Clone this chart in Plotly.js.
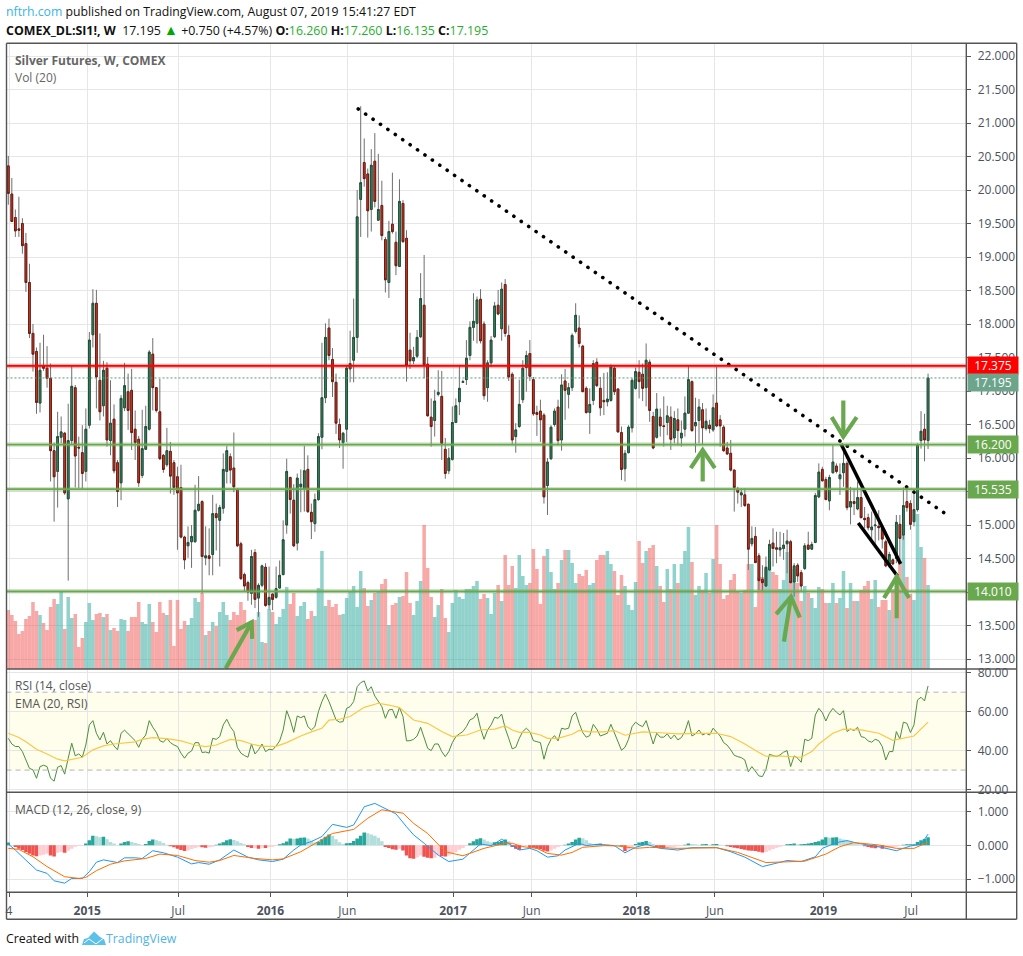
<!DOCTYPE html>
<html><head><meta charset="utf-8">
<script src="https://cdn.plot.ly/plotly-3.0.1.min.js"></script>
<style>html,body{margin:0;padding:0;background:#fff}#c{width:1023px;height:956px}</style>
</head><body><div id="c"></div>
<script>
const opens=[20.36,19.94,19.59,19.42,19.50,19.20,18.62,17.86,17.59,16.82,
17.37,17.34,17.19,16.11,15.80,16.31,16.37,15.39,16.26,17.05,
16.16,16.08,15.80,16.49,17.84,18.31,17.16,16.78,17.34,16.26,
16.58,15.93,15.63,16.75,16.99,17.01,16.43,16.28,15.74,16.13,
16.43,17.55,17.05,16.69,16.04,15.90,16.10,15.93,15.72,15.56,
14.82,14.69,14.75,14.75,15.22,15.35,14.51,14.54,14.56,15.17,
15.07,15.25,15.80,16.02,15.85,15.53,14.72,14.26,14.14,13.98,
14.59,13.91,14.10,14.37,13.81,13.97,13.92,14.06,14.26,15.00,
15.71,15.37,14.73,15.57,15.53,15.83,15.19,15.02,15.38,16.31,
16.90,17.94,17.47,17.13,16.50,16.23,16.43,17.33,17.46,17.80,
19.86,20.41,20.24,19.71,20.43,19.55,19.77,19.26,18.62,19.49,
19.22,18.86,19.80,19.28,17.61,17.45,17.52,17.81,18.28,17.40,
16.61,16.56,16.95,16.92,16.13,15.81,15.98,16.53,16.84,17.13,
17.17,17.53,17.95,18.01,18.37,18.00,17.05,17.42,17.81,18.28,
17.93,18.59,17.83,17.25,16.32,16.47,16.87,17.35,17.56,17.17,
16.68,16.70,16.64,15.59,15.99,16.50,16.76,16.27,17.15,16.95,
17.05,17.89,17.94,17.67,17.04,16.68,16.86,17.43,17.04,16.86,
16.84,16.86,17.34,17.03,16.38,15.84,16.08,16.45,17.04,17.28,
17.25,17.05,17.43,16.62,16.31,16.61,16.48,16.53,16.61,16.30,
16.57,16.30,16.43,16.67,17.14,16.48,16.56,16.72,16.44,16.49,
16.42,16.82,16.57,16.46,16.15,16.07,15.82,15.53,15.45,15.45,
15.31,14.72,14.83,14.54,14.19,14.09,14.33,14.73,14.66,14.63,
14.65,14.72,14.75,14.15,14.40,14.29,14.35,14.70,14.64,14.74,
15.42,15.83,15.68,15.36,15.78,15.88,15.69,15.78,15.92,15.27,
15.35,15.24,15.41,15.10,15.11,14.93,14.99,14.98,14.95,14.75,
14.39,14.48,14.50,15.01,14.85,15.35,15.32,15.05,15.23,16.26,
16.43,16.26];
const closes=[19.95,19.53,19.39,19.40,19.17,18.62,17.86,17.55,16.83,17.31,
17.34,17.19,16.11,15.72,16.32,16.39,15.48,16.26,17.07,16.03,
16.15,15.77,16.43,17.76,18.31,17.21,16.69,17.31,16.27,16.52,
15.81,15.50,16.89,17.08,16.71,16.38,16.23,15.63,16.14,16.47,
17.58,17.05,16.71,15.99,15.83,16.11,15.73,15.56,15.48,14.82,
14.48,14.74,14.83,15.22,15.31,14.53,14.54,14.50,15.17,15.11,
15.26,15.83,16.11,15.82,15.57,14.69,14.20,14.09,14.00,14.53,
13.89,14.10,14.39,13.80,13.92,13.89,14.05,14.25,14.78,15.80,
15.38,14.69,15.70,15.61,15.81,15.20,15.05,15.38,16.32,16.90,
17.80,17.53,17.14,16.52,16.27,16.37,17.34,17.41,17.80,19.60,
20.11,20.17,19.69,20.37,19.83,19.71,19.32,18.66,19.38,19.38,
18.87,19.83,19.23,17.38,17.45,17.50,17.80,18.38,17.39,16.63,
16.47,16.85,16.98,16.22,15.77,16.00,16.53,16.78,17.04,17.14,
17.49,17.95,18.04,18.36,17.75,16.93,17.42,17.76,18.27,18.15,
18.52,17.86,17.21,16.27,16.42,16.80,17.34,17.53,17.22,16.66,
16.65,16.57,15.42,15.94,16.46,16.70,16.26,17.09,17.01,17.05,
17.83,18.13,17.71,16.99,16.68,16.80,17.41,17.08,16.75,16.84,
16.88,17.36,16.99,16.39,15.83,16.07,16.46,17.16,17.29,17.14,
17.04,17.46,16.71,16.15,16.73,16.48,16.47,16.63,16.28,16.59,
16.41,16.37,16.67,17.17,16.41,16.53,16.76,16.45,16.55,16.44,
16.75,16.48,16.48,16.11,16.06,15.82,15.56,15.49,15.48,15.29,
14.64,14.80,14.44,14.17,14.14,14.37,14.71,14.65,14.64,14.66,
14.70,14.76,14.14,14.39,14.24,14.09,14.69,14.64,14.71,15.44,
15.79,15.66,15.38,15.71,15.94,15.80,15.75,15.92,15.26,15.35,
15.32,15.41,15.11,15.08,14.96,14.97,15.00,14.96,14.79,14.39,
14.56,14.42,15.04,14.80,15.29,15.26,15.01,15.23,16.20,16.40,
16.27,17.195];
const highs=[20.51,20.18,19.71,19.90,19.58,19.36,18.90,18.00,17.65,17.72,
17.84,17.67,17.41,16.23,16.69,16.62,16.39,16.81,17.37,17.09,
16.32,16.49,16.74,17.88,18.52,18.51,17.86,17.45,17.43,17.16,
16.80,15.97,16.94,17.42,17.26,17.33,16.71,16.33,16.72,16.78,
17.61,17.79,17.06,17.18,16.06,16.45,16.24,15.97,15.87,15.90,
14.84,14.98,15.00,15.60,15.73,15.37,14.98,14.95,15.45,15.32,
15.30,16.07,16.18,16.07,16.38,15.55,14.75,14.29,14.17,14.63,
14.64,14.13,14.41,14.43,14.38,13.98,14.38,14.47,15.07,15.99,
15.72,15.61,15.77,15.83,16.18,16.04,15.32,15.47,16.37,17.72,
18.01,18.08,17.64,17.26,16.59,16.39,17.39,17.90,18.38,20.00,
21.25,20.77,20.32,20.61,20.85,20.54,20.14,19.30,19.54,20.26,
19.38,20.16,19.85,19.40,17.87,17.66,17.91,18.76,19.03,17.51,
16.89,17.02,17.31,17.30,16.30,16.15,16.77,16.89,17.39,17.17,
17.76,18.04,18.46,18.41,18.52,18.04,17.46,17.82,18.33,18.51,
18.62,18.67,17.98,17.28,16.52,17.17,17.46,17.60,17.76,17.21,
16.78,16.87,16.67,16.00,16.49,16.74,16.87,17.25,17.33,17.12,
17.86,18.31,18.13,17.69,17.07,17.04,17.46,17.49,17.21,17.27,
17.28,17.40,17.38,17.04,16.47,16.12,16.49,17.19,17.35,17.46,
17.41,17.71,17.47,16.69,16.97,16.74,16.92,16.78,16.77,16.70,
16.74,16.56,16.92,17.37,17.16,16.90,16.88,16.82,16.74,16.57,
16.95,17.36,16.64,16.49,16.24,16.27,15.83,15.57,15.55,15.55,
15.32,14.98,14.97,14.58,14.40,14.53,14.78,14.95,14.90,14.90,
14.88,14.93,14.78,14.43,14.43,14.33,14.73,14.90,14.75,15.48,
15.92,15.87,15.72,15.75,16.19,15.92,15.92,16.19,15.95,15.57,
15.55,15.65,15.55,15.27,15.17,15.20,15.17,15.22,15.00,14.78,
14.60,14.50,15.15,15.15,15.56,15.55,15.37,15.53,16.22,16.70,
16.66,17.26];
const lows=[19.78,19.53,19.30,19.30,19.05,18.48,17.79,17.29,16.66,16.68,
17.30,17.05,15.65,15.05,15.26,16.22,15.45,14.17,16.21,15.56,
15.55,15.53,15.65,16.44,17.65,16.74,16.56,16.62,16.17,16.04,
15.77,15.27,15.37,16.70,16.42,16.12,15.97,15.57,15.70,16.12,
16.41,16.71,16.68,15.97,15.78,15.87,15.47,15.45,14.63,14.80,
14.34,14.51,14.36,14.74,15.20,13.98,14.40,14.25,14.25,14.62,
14.38,15.17,15.62,15.62,15.49,14.67,14.18,14.00,13.87,13.81,
13.76,13.63,14.07,13.78,13.74,13.73,13.90,14.05,14.25,14.87,
15.17,14.67,14.62,15.19,15.20,15.18,14.79,14.90,15.36,16.13,
16.82,17.46,16.91,16.36,16.15,15.84,16.24,17.13,17.13,17.57,
19.30,20.05,19.29,19.38,19.74,19.54,19.25,18.47,18.39,19.35,
18.73,18.85,19.21,17.14,17.33,17.40,17.49,17.79,17.19,16.62,
16.17,16.32,16.92,15.97,15.69,15.76,15.96,16.52,16.64,17.12,
17.09,17.46,17.75,17.71,17.71,16.87,16.84,17.36,17.79,18.13,
17.75,17.81,17.15,16.19,16.08,16.45,16.82,16.99,17.15,16.63,
16.33,16.24,15.32,15.15,15.97,16.47,16.19,16.11,16.57,16.74,
17.00,17.86,17.65,16.99,16.66,16.36,16.79,17.06,16.63,16.64,
16.77,16.84,16.94,16.38,15.67,15.65,16.07,16.38,17.02,16.89,
16.85,16.77,16.54,16.13,16.29,16.32,16.17,16.34,16.12,16.22,
16.19,16.17,16.32,16.66,16.39,16.08,16.22,16.21,16.41,16.37,
16.39,16.46,16.17,16.09,16.05,15.80,15.20,15.32,15.27,15.27,
14.33,14.68,14.43,14.03,14.00,14.08,14.32,14.38,14.43,14.53,
14.48,14.28,14.13,13.93,14.15,14.00,14.33,14.63,14.63,14.73,
15.40,15.65,15.37,15.22,15.77,15.77,15.45,15.57,15.22,15.01,
15.15,15.22,15.10,14.95,14.92,14.77,14.68,14.77,14.65,14.37,
14.36,14.40,14.43,14.48,14.78,15.20,14.93,14.98,15.20,16.14,
15.95,16.135];
const volumes=[59,54,48,35,38,50,53,67,58,54,
46,39,62,70,65,77,40,72,51,55,
22,31,47,66,49,55,56,52,55,39,
41,38,50,49,38,52,52,67,47,45,
65,47,37,67,56,54,69,23,69,40,
48,44,51,71,67,76,34,38,47,43,
57,67,54,49,57,54,67,59,43,44,
49,57,27,26,60,57,45,52,60,82,
65,76,53,63,67,50,58,53,81,118,
63,69,62,65,54,55,71,77,83,62,
98,81,63,69,76,78,85,90,44,64,
66,72,73,97,66,54,68,88,144,101,
72,52,64,80,51,37,66,79,72,70,
80,80,83,88,70,75,71,55,76,84,
68,114,84,103,81,114,93,84,86,120,
100,65,113,120,97,80,86,109,119,119,
106,86,95,93,99,84,86,109,114,114,
118,105,98,74,94,83,64,59,87,128,
106,118,121,124,103,83,67,100,80,105,
86,105,118,142,107,74,83,79,96,76,
110,144,105,70,74,89,95,77,76,79,
105,105,62,92,92,100,108,97,94,80,
89,117,88,100,86,68,83,76,71,61,
82,80,66,66,86,66,71,98,61,86,
68,68,79,83,88,70,89,62,69,69,
59,80,85,108,145,92,75,69,155,122,
111,84];
const rsi=[46.3,43.4,42.1,42.1,39.5,35.2,30.9,30.1,25.8,31.8,
32.5,31.8,25.8,24.3,31.5,32.3,27.9,36.1,43.8,37.3,
38.3,36.6,42.9,53.2,55.4,48.9,45.5,49.4,43.4,45.1,
42.4,40.4,48.9,50.5,48.6,46.7,45.1,41.7,45.8,48.0,
55.4,52.0,49.4,45.1,44.3,46.3,44.1,42.9,42.1,38.7,
36.1,38.7,39.8,44.1,44.1,39.0,39.3,38.7,46.3,45.8,
47.2,53.2,56.1,52.3,49.8,41.7,38.7,37.5,36.6,43.4,
38.3,40.4,43.4,39.5,40.7,40.4,42.4,45.0,50.6,60.5,
55.8,49.4,57.8,56.9,57.8,52.3,50.6,52.3,60.0,65.2,
69.1,65.2,60.0,55.8,54.6,54.9,61.7,62.6,65.2,72.8,
74.9,75.8,70.6,72.8,68.0,65.2,62.6,56.6,60.9,61.2,
56.6,62.2,57.5,45.0,45.1,45.8,47.5,52.0,46.3,41.2,
40.0,43.4,43.4,39.5,36.9,39.5,44.1,47.2,48.6,49.8,
52.3,55.8,56.6,59.2,51.5,45.8,50.6,53.2,57.1,56.6,
58.8,51.5,46.3,40.9,41.7,46.3,49.8,51.5,49.8,45.1,
44.6,44.1,35.6,42.1,45.8,47.7,45.0,51.5,51.0,51.5,
57.8,59.7,54.0,49.3,46.9,47.7,53.5,51.0,47.5,48.4,
48.9,53.5,48.9,44.1,40.2,41.7,45.8,52.3,54.6,53.2,
52.3,55.4,48.9,43.4,48.9,46.9,46.9,48.6,46.0,48.0,
45.5,46.7,49.8,55.4,47.5,48.6,50.6,48.0,48.9,48.0,
51.5,49.3,47.5,44.1,42.8,40.4,37.6,36.9,36.4,35.2,
29.1,31.8,29.4,27.0,26.7,30.4,38.1,37.3,36.9,37.8,
39.2,40.0,31.8,37.3,36.1,34.0,45.8,45.1,46.3,58.3,
61.7,59.5,55.2,59.2,61.7,59.7,58.3,60.5,49.8,51.1,
50.3,52.0,47.2,46.7,45.0,44.3,45.8,45.1,42.1,35.2,
39.5,39.5,49.8,46.0,54.6,54.0,49.3,53.2,66.0,67.4,
65.5,73.2];
const emaBars=[0,3,5,8,11,14,16,19,21,24,27,30,33,36,38,41,45,49,53,56,59,63,66,69,72,76,79,83,86,89,91,94,97,101,105,108,111,115,119,123,126,130,134,138,141,143,145,148,151,153,156,160,162,165,169,172,175,180,184,190,196,201,205,209,213,215,218,225,228,230,234,237,242,247,251,254,257,261];
const emaValues=[48.9,46.7,44.6,40.7,38.3,35.6,34.7,35.8,36.6,40.4,42.4,43.4,44.1,44.5,45.8,46.7,46.2,45,42.9,42.1,42.9,45.8,45.1,43.4,42.2,42.2,44.1,47.5,49.6,51.5,55.7,56.1,57.5,62.2,64.3,63.4,62.1,55.7,54,49.8,47.2,48,50.6,51,52.7,50.6,49.4,49.4,48,46.3,46.3,48.4,50.4,49.6,49.6,50.3,47.9,49.6,49.3,48.6,48.9,48.9,47.2,43.4,39,37.1,37.3,36.6,39.5,43.4,48.9,51,50.6,48.9,45.3,46.3,47.5,54.6];
const macdBars=[0,2,5,8,11,13,16,18,21,23,25,27,31,33,36,38,41,44,48,52,54,57,60,64,68,71,75,78,81,83,86,89,92,96,98,101,104,106,110,113,115,118,122,125,129,134,137,140,143,145,148,150,153,156,158,162,164,167,172,175,178,181,185,190,194,201,205,209,214,218,221,225,229,231,235,238,241,247,252,256,259,261];
const macdValues=[0.04,-0.14,-0.44,-0.73,-0.83,-1.05,-1.12,-0.98,-0.98,-0.78,-0.50,-0.43,-0.51,-0.37,-0.37,-0.39,-0.16,-0.22,-0.35,-0.55,-0.51,-0.56,-0.43,-0.14,-0.35,-0.43,-0.48,-0.41,-0.14,0.01,0.11,0.26,0.62,0.53,0.60,1.14,1.24,1.13,0.93,0.55,0.31,0.06,-0.29,-0.48,-0.41,0.04,-0.01,0.18,-0.02,-0.14,-0.09,-0.16,-0.35,-0.31,-0.14,0.06,-0.01,0.03,-0.01,-0.22,-0.06,0.03,-0.09,-0.14,-0.07,-0.07,-0.19,-0.35,-0.63,-0.53,-0.45,-0.48,-0.34,-0.09,0.08,0.14,0.06,-0.04,-0.16,-0.02,0.03,0.33];
const signalBars=[0,3,7,11,16,20,22,25,29,33,39,43,48,53,57,60,64,70,75,78,83,87,92,98,102,106,112,115,119,124,129,135,141,143,146,150,153,157,160,163,169,173,178,182,190,201,207,215,223,226,232,236,240,247,252,257,261];
const signalValues=[-0.09,-0.12,-0.34,-0.63,-0.93,-0.98,-0.95,-0.75,-0.56,-0.46,-0.39,-0.26,-0.30,-0.45,-0.50,-0.45,-0.30,-0.39,-0.43,-0.40,-0.19,0.06,0.35,0.47,0.80,1.05,0.95,0.65,0.35,-0.19,-0.31,-0.09,0.06,0.06,-0.04,-0.09,-0.24,-0.29,-0.21,-0.06,-0.01,-0.02,-0.09,-0.06,-0.09,-0.07,-0.21,-0.51,-0.47,-0.47,-0.26,-0.04,0.08,0.01,-0.09,-0.09,0.09];
const histogram=[.08,0,-.05,-.10,-.14,-.20,-.25,-.30,-.32,-.30,
-.28,-.25,-.30,-.33,-.22,-.20,-.22,-.16,-.10,-.04,
-.02,-.02,.05,.15,.28,.27,.24,.25,.18,.10,
.05,.01,.05,.10,.12,.10,.07,.04,.02,.04,
.13,.17,.15,.12,.07,.02,-.03,-.06,-.10,-.14,
-.17,-.15,-.11,-.08,-.05,-.06,-.07,-.06,-.04,.02,
.05,.09,.15,.18,.16,.12,.07,.03,-.05,-.08,
-.07,-.10,-.07,-.08,-.05,-.04,-.02,.03,.06,.11,
.20,.19,.20,.22,.23,.20,.14,.08,.10,.18,
.25,.32,.28,.18,.09,.04,.06,.07,.13,.20,
.28,.38,.36,.32,.28,.22,.12,-.05,-.08,-.12,
-.13,-.10,-.15,-.30,-.38,-.40,-.36,-.30,-.34,-.37,
-.38,-.37,-.30,-.32,-.33,-.30,-.25,-.20,-.13,-.08,
-.02,.06,.12,.18,.21,.17,.12,.08,.09,.10,
.13,.17,.12,-.05,-.10,-.13,-.06,-.03,-.05,-.07,
-.10,-.12,-.16,-.18,-.15,-.10,-.05,-.01,.02,.05,
.10,.17,.22,.21,.15,.07,.03,.04,.05,.04,
.03,.02,.01,.01,-.03,-.17,-.13,-.08,.04,.08,
.10,.13,.10,.04,-.05,-.07,-.08,-.08,-.06,-.05,
-.03,-.02,.02,.05,.04,.03,.02,.03,.04,.02,
.03,.04,.02,.01,-.03,-.05,-.07,-.09,-.11,-.13,
-.15,-.16,-.17,-.19,-.21,-.20,-.15,-.11,-.07,-.04,
-.02,.03,.04,.05,.03,.03,.04,.05,.07,.10,
.12,.17,.24,.22,.23,.235,.20,.17,.14,.10,
.06,.03,.01,-.03,-.05,-.07,-.09,-.08,-.10,-.09,
-.07,-.05,-.04,-.02,.02,.03,.03,.03,.10,.15,
.19,.24];
const tickBars=[0.2,22.4,48.2,74.4,96.2,126.2,148.5,178.2,200.5,231.3,256.2];
const tickLabels=['4','<b>2015</b>','Jul','<b>2016</b>','Jun','<b>2017</b>','Jun','<b>2018</b>','Jun','<b>2019</b>','Jul'];
const priceTicks=[13,13.5,14,14.5,15,15.5,16,16.5,17,17.5,18,18.5,19,19.5,20,20.5,21,21.5,22];
const priceTickLabels=['13.000','13.500','','14.500','15.000','','16.000','16.500','17.000','17.500','18.000','18.500','19.000','19.500','20.000','20.500','21.000','21.500','22.000'];
const redLevel=17.375, lastPrice=17.195;
const greenLevels=[16.2,15.535,14.01];
const trendBars=[99.3,265.6], trendPrices=[21.21,15.18];
const wedgeUpperBars=[236.3,253.2], wedgeUpperPrices=[16.21,14.42];
const wedgeLowerBars=[241.2,252.3], wedgeLowerPrices=[15.03,14.24];
const arrowBars=[61.7,69.07,null,64.8,69.07,69.2,null,197.05,197.05,null,193.65,197.05,200.5,null,220.1,222.1,null,217.9,222.1,224.6,null,236.95,236.95,null,233.65,236.95,240.75,null,252.1,252.1,null,248.5,252.1,255.6];
const arrowPrices=[12.86,13.55,null,13.43,13.55,13.30,null,15.65,16.12,null,15.85,16.12,15.85,null,13.26,13.93,null,13.67,13.93,13.62,null,16.86,16.32,null,16.61,16.32,16.61,null,13.61,14.23,null,13.91,14.23,13.91];

const W=1023,H=956;
const X0=6.5,X1=966.3,XR=1016.7,YT=43.3,Y1=669,Y2=792.3,Y3=892.3,YB=919.3;
const fx=p=>p/W, fy=p=>1-p/H;
const bars=closes.map((_,i)=>i);
const FONT='"Open Sans", sans-serif';
const TXT='#4c525e';

const up=closes.map((c,i)=>c>=opens[i]);
const histColors=histogram.map((v,i)=>{const rising=i===0||v>=histogram[i-1];return v>=0?(rising?'#26a69a':'#b2dfdb'):(rising?'#ffcdd2':'#ef5350');});

const bodyHigh=closes.map((c,i)=>Math.max(c,opens[i]));
const bodyLow=closes.map((c,i)=>Math.min(c,opens[i]));

const traces=[
 {type:'bar',x:bars,y:volumes,xaxis:'x',yaxis:'y',width:1,marker:{color:up.map(u=>u?'#26a69a':'#ef5350'),opacity:0.5,line:{width:0}},hoverinfo:'skip'},
 {type:'candlestick',x:bars,open:opens,high:highs,low:lows,close:closes,xaxis:'x',yaxis:'y2',
  increasing:{line:{color:'#6f6f6f',width:1},fillcolor:'#6f6f6f'},decreasing:{line:{color:'#6f6f6f',width:1},fillcolor:'#6f6f6f'},hoverinfo:'skip'},
 {type:'candlestick',x:bars,open:opens,high:bodyHigh,low:bodyLow,close:closes,xaxis:'x',yaxis:'y2',
  increasing:{line:{color:'#1f4f38',width:1},fillcolor:'#3b8a64'},decreasing:{line:{color:'#6e1a10',width:1},fillcolor:'#d13e2a'},hoverinfo:'skip'},
 {type:'scatter',mode:'lines',name:'trend',x:trendBars,y:trendPrices,xaxis:'x',yaxis:'y2',line:{color:'#000',width:3.6,dash:'3px,6px'},hoverinfo:'skip'},
 {type:'scatter',mode:'lines',x:wedgeUpperBars,y:wedgeUpperPrices,xaxis:'x',yaxis:'y2',line:{color:'#000',width:3.5},hoverinfo:'skip'},
 {type:'scatter',mode:'lines',x:wedgeLowerBars,y:wedgeLowerPrices,xaxis:'x',yaxis:'y2',line:{color:'#000',width:3.5},hoverinfo:'skip'},
 {type:'scatter',mode:'lines',x:arrowBars,y:arrowPrices,xaxis:'x',yaxis:'y2',line:{color:'#6aa84f',width:4.2},connectgaps:false,hoverinfo:'skip'},
 {type:'scatter',mode:'lines',x:bars,y:rsi,xaxis:'x',yaxis:'y3',line:{color:'#4a8f3c',width:1},hoverinfo:'skip'},
 {type:'scatter',mode:'lines',x:emaBars,y:emaValues,xaxis:'x',yaxis:'y3',line:{color:'#f9c846',width:1.2},hoverinfo:'skip'},
 {type:'bar',x:bars,y:histogram,xaxis:'x',yaxis:'y4',width:1,marker:{color:histColors,line:{width:0}},hoverinfo:'skip'},
 {type:'scatter',mode:'lines',x:macdBars,y:macdValues,xaxis:'x',yaxis:'y4',line:{color:'#2196f3',width:1},hoverinfo:'skip'},
 {type:'scatter',mode:'lines',x:signalBars,y:signalValues,xaxis:'x',yaxis:'y4',line:{color:'#ff6d00',width:1},hoverinfo:'skip'}
];

const yCommon={side:'right',showgrid:true,gridcolor:'#e6e6e6',gridwidth:1,zeroline:false,showline:false,ticks:'outside',ticklen:4,tickcolor:'#555',tickwidth:1,ticklabelstandoff:4,tickfont:{family:FONT,size:12,color:TXT},automargin:false};

const paperLine=(x0,y0,x1,y1)=>({type:'line',xref:'paper',yref:'paper',x0:fx(x0),y0:fy(y0),x1:fx(x1),y1:fy(y1),line:{color:'#555',width:1.4},layer:'above'});
const lvl=(v,color)=>[
 {type:'line',xref:'paper',yref:'y2',x0:fx(X0),x1:fx(X1),y0:v,y1:v,line:{color,width:4.5},opacity:0.3,layer:'above'},
 {type:'line',xref:'paper',yref:'y2',x0:fx(X0),x1:fx(X1),y0:v,y1:v,line:{color,width:1.8},layer:'above'}];
const px=pts=>pts.map(p=>typeof p==='string'?p:fx(p[0])+','+fy(p[1])).join(' ');

const shapes=[
 {type:'rect',xref:'paper',yref:'y3',x0:fx(X0),x1:fx(X1),y0:30,y1:70,fillcolor:'rgba(255,235,59,0.1)',line:{width:0},layer:'below'},
 {type:'line',xref:'paper',yref:'y3',x0:fx(X0),x1:fx(X1),y0:70,y1:70,line:{color:'#b4b4b4',width:1,dash:'5px,4px'},layer:'above'},
 {type:'line',xref:'paper',yref:'y3',x0:fx(X0),x1:fx(X1),y0:30,y1:30,line:{color:'#b4b4b4',width:1,dash:'5px,4px'},layer:'above'},
 {type:'line',xref:'paper',yref:'y2',x0:fx(X0),x1:fx(X1),y0:lastPrice,y1:lastPrice,line:{color:'#5a9a7a',width:1,dash:'2px,2px'},layer:'above'},
 ...lvl(redLevel,'#ff0000'),
 ...greenLevels.flatMap(v=>lvl(v,'#6aa84f')),
 {type:'path',xref:'paper',yref:'paper',path:'M '+px([[82,945],'L',[84,939],'L',[88,938],'L',[94,931.5],'L',[100,937],'L',[104,939],'L',[106,945]])+' Z',fillcolor:'#5bc0ea',line:{width:0},layer:'above'},
 {type:'path',xref:'paper',yref:'paper',path:'M '+px([[84,943],'L',[89,939],'L',[96,944],'L',[105,937]]),line:{color:'#fff',width:1},layer:'above'},
 paperLine(X0,YT,XR,YT),paperLine(X0,YT,X0,YB),paperLine(XR,YT,XR,YB),paperLine(X0,YB,XR,YB),
 paperLine(X1,YT,X1,YB),paperLine(X0,Y1,XR,Y1),paperLine(X0,Y2,XR,Y2),paperLine(X0,Y3,XR,Y3)
];

const txt=(x,y,text,size,color,extra)=>Object.assign({xref:'paper',yref:'paper',x:fx(x-2),y:fy(y),text,showarrow:false,xanchor:'left',yanchor:'middle',align:'left',font:{family:FONT,size,color}},extra||{});
const tag=(v,bg,shift)=>({xref:'paper',yref:'y2',x:fx(X1+0.7),y:v,xanchor:'left',yanchor:'middle',text:v.toFixed(3),showarrow:false,width:50,height:17,bgcolor:bg,align:'center',valign:'middle',borderpad:0,yshift:shift||0,font:{family:FONT,size:12,color:'#fff'}});

const G='<span style="color:#1fae2e">';
const annotations=[
 txt(6,12,'<span style="color:#39b4e6">nftrh.com</span> published on TradingView.com, August 07, 2019 15:41:27 EDT',12.25,'#111'),
 txt(6,29.5,'<b>COMEX_DL:SI1!, W</b>\u00a0\u00a017.195\u00a0<span style="color:#00a800;font-size:14px">▲</span>\u00a0+0.750 (+4.57%)\u00a0<b>O:</b>'+G+'16.260</span>\u00a0<b>H:</b>'+G+'17.260</span>\u00a0<b>L:</b>'+G+'16.135</span>\u00a0<b>C:</b>'+G+'17.195</span>',12.4,'#111'),
 txt(15,60.5,'<b>Silver Futures, W, COMEX</b>',12,'#666'),
 txt(15,77.5,'Vol (20)',12,'#666'),
 txt(15,685.5,'RSI (14, close)',12,'#555'),
 txt(15,703,'EMA (20, RSI)',12,'#555'),
 txt(15,809.5,'MACD (12, 26, close, 9)',12,'#555'),
 txt(6,938,'Created with',12.3,'#111'),
 txt(106,938,'TradingView',12.3,'#4fb4e6'),
 tag(redLevel,'#ff0000'),
 tag(lastPrice,'#6da48c',-4.5),
 ...greenLevels.map(v=>tag(v,'#6aa84f'))
];

const layout={
 width:W,height:H,margin:{l:0,r:0,t:0,b:0,pad:0},paper_bgcolor:'#fff',plot_bgcolor:'#fff',showlegend:false,hovermode:false,barmode:'overlay',dragmode:false,
 xaxis:{domain:[fx(X0),fx(X1)],range:[(X0-8.3)/3.524,(X1-8.3)/3.524],anchor:'y4',type:'linear',rangeslider:{visible:false},tickmode:'array',tickvals:tickBars,ticktext:tickLabels,showgrid:true,gridcolor:'#e6e6e6',gridwidth:1,zeroline:false,showline:false,ticks:'outside',ticklen:4,tickcolor:'#555',ticklabelstandoff:3,tickfont:{family:FONT,size:12,color:TXT},tickangle:0,automargin:false},
 yaxis:{domain:[fy(Y1),fy(YT)],range:[0,625.7],visible:false,fixedrange:true},
 yaxis2:Object.assign({},yCommon,{overlaying:'y',range:[12.851,22.19],tickmode:'array',tickvals:priceTicks,ticktext:priceTickLabels}),
 yaxis3:Object.assign({},yCommon,{domain:[fy(Y2),fy(Y1)],range:[18.6,81.9],tickmode:'array',tickvals:[20,40,60,80],tickformat:'.2f'}),
 yaxis4:Object.assign({},yCommon,{domain:[fy(Y3),fy(Y2)],range:[-1.39,1.568],tickmode:'array',tickvals:[-1,0,1],tickformat:'.3f'}),
 shapes,annotations
};
Plotly.newPlot('c',traces,layout,{staticPlot:true,displayModeBar:false}).then(gd=>{
 // the hand-drawn trend line has round dots: same line, only the stroke caps differ
 gd.querySelectorAll('.scatterlayer .trace path.js-line').forEach(p=>{
  const d=p.getAttribute('d')||'';
  if(p.style.strokeDasharray&&p.style.strokeWidth==='3.6px'){p.style.strokeLinecap='round';p.style.strokeDasharray='0.1px,8.9px';}
 });
});
</script></body></html>
